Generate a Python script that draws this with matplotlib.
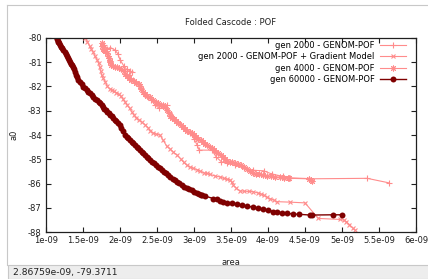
#!/usr/bin/env python
# Folded Cascode : POF -- pareto fronts for several runs (gnuplot wxt look)

import numpy as np
import matplotlib
matplotlib.use('Agg')
import matplotlib.pyplot as plt
from matplotlib.patches import Rectangle
from matplotlib.lines import Line2D

plt.rcParams['font.family'] = 'DejaVu Sans'
plt.rcParams['font.size'] = 6

#
#   DATA  (area in units of 1e-9)
#
g2000_area = [1.79, 1.83, 1.87, 1.93, 1.97, 2.00, 2.05, 2.09, 2.13, 2.16, 2.12, 2.18,
              2.24, 2.29, 2.33, 2.38, 2.42, 2.47, 2.53, 2.61, 2.63, 2.66, 2.72, 2.78,
              2.86, 2.94, 3.00, 3.04, 3.07, 3.24, 3.30, 3.37, 3.45, 3.55, 3.68, 3.80,
              3.94, 4.05, 4.20, 4.30, 4.55, 5.34, 5.64]
g2000_a0 = [-80.30, -80.45, -80.40, -80.50, -80.65, -80.90, -81.15, -81.30, -81.35, -81.40,
            -81.55, -81.75, -81.90, -82.05, -82.30, -82.45, -82.55, -82.75, -82.90, -82.90,
            -82.75, -83.05, -83.25, -83.45, -83.70, -83.90, -84.15, -84.40, -84.62, -84.62,
            -84.90, -85.10, -85.15, -85.25, -85.35, -85.45, -85.47, -85.60, -85.70, -85.78,
            -85.80, -85.78, -85.97]

grad_area = [1.532, 1.56, 1.59, 1.61, 1.64, 1.66, 1.69, 1.71, 1.725, 1.74, 1.755, 1.77,
             1.80, 1.83, 1.86, 1.89, 1.92, 1.95, 1.98, 2.01, 2.04, 2.07, 2.10, 2.13,
             2.16, 2.19, 2.22, 2.26, 2.30, 2.34, 2.38, 2.41, 2.44, 2.48, 2.54, 2.58,
             2.63, 2.68, 2.72, 2.77, 2.82, 2.86, 2.90, 2.95, 2.99, 3.04, 3.08, 3.13,
             3.17, 3.22, 3.28, 3.35, 3.40, 3.45, 3.49, 3.51, 3.53, 3.57, 3.62, 3.68,
             3.74, 3.80, 3.86, 3.90, 3.94, 3.98, 4.03, 4.08, 4.12, 4.30, 4.50, 4.68,
             4.97, 5.03, 5.06, 5.10, 5.15, 5.17]
grad_a0 = [-80.00, -80.16, -80.35, -80.45, -80.60, -80.75, -80.90, -81.05, -81.20, -81.38,
           -81.55, -81.65, -81.80, -82.00, -82.10, -82.15, -82.20, -82.25, -82.32, -82.40,
           -82.52, -82.65, -82.78, -82.90, -83.05, -83.18, -83.28, -83.38, -83.48, -83.58,
           -83.70, -83.82, -83.90, -83.95, -84.00, -84.20, -84.45, -84.58, -84.70, -84.82,
           -84.98, -85.12, -85.23, -85.32, -85.37, -85.42, -85.48, -85.55, -85.58, -85.62,
           -85.68, -85.72, -85.78, -85.82, -85.85, -85.95, -86.06, -86.18, -86.30, -86.31,
           -86.32, -86.33, -86.38, -86.42, -86.47, -86.55, -86.62, -86.68, -86.74, -86.76,
           -86.79, -87.43, -87.47, -87.50, -87.57, -87.68, -87.84, -87.90]

g4000_area = [1.757, 1.76, 1.77, 1.79, 1.80, 1.82, 1.84, 1.85, 1.86, 1.87, 1.88, 1.90,
              1.93, 1.96, 1.99, 2.02, 2.05, 2.07, 2.09, 2.12, 2.15, 2.19, 2.22, 2.25,
              2.27, 2.29, 2.31, 2.34, 2.37, 2.41, 2.45, 2.48, 2.52, 2.55, 2.58, 2.61,
              2.64, 2.66, 2.68, 2.70, 2.73, 2.76, 2.79, 2.82, 2.85, 2.88, 2.91, 2.94,
              2.97, 3.00, 3.03, 3.06, 3.09, 3.12, 3.15, 3.18, 3.21, 3.24, 3.27, 3.30,
              3.33, 3.36, 3.39, 3.42, 3.45, 3.48, 3.52, 3.56, 3.60, 3.64, 3.68, 3.72,
              3.76, 3.80, 3.84, 3.88, 3.93, 3.98, 4.04, 4.10, 4.16, 4.22, 4.27, 4.29,
              4.55, 4.58, 4.60]
g4000_a0 = [-80.23, -80.35, -80.45, -80.50, -80.55, -80.62, -80.75, -80.85, -80.95, -81.00,
            -81.10, -81.15, -81.20, -81.22, -81.25, -81.28, -81.35, -81.48, -81.58, -81.65,
            -81.72, -81.78, -81.85, -81.92, -82.00, -82.10, -82.22, -82.32, -82.40, -82.45,
            -82.55, -82.65, -82.70, -82.75, -82.78, -82.85, -82.97, -83.10, -83.20, -83.28,
            -83.35, -83.42, -83.50, -83.58, -83.68, -83.75, -83.82, -83.88, -83.93, -84.00,
            -84.08, -84.15, -84.20, -84.28, -84.35, -84.42, -84.48, -84.55, -84.62, -84.68,
            -84.75, -84.82, -84.90, -84.98, -85.05, -85.10, -85.12, -85.15, -85.20, -85.25,
            -85.32, -85.40, -85.48, -85.55, -85.60, -85.62, -85.65, -85.68, -85.70, -85.72,
            -85.74, -85.76, -85.78, -85.76, -85.79, -85.83, -85.88]

g60000_area = [1.150, 1.155, 1.160, 1.166, 1.175, 1.189, 1.20, 1.215, 1.234, 1.25,
               1.265, 1.28, 1.295, 1.31, 1.324, 1.34, 1.355, 1.369, 1.38, 1.392,
               1.405, 1.42, 1.436, 1.455, 1.48, 1.504, 1.525, 1.55, 1.572, 1.595,
               1.617, 1.639, 1.66, 1.685, 1.71, 1.73, 1.75, 1.77, 1.79, 1.81,
               1.83, 1.85, 1.87, 1.89, 1.91, 1.93, 1.95, 1.975, 2.00, 2.02,
               2.045, 2.068, 2.09, 2.112, 2.135, 2.158, 2.18, 2.202, 2.225, 2.247,
               2.27, 2.292, 2.315, 2.338, 2.36, 2.383, 2.405, 2.428, 2.455, 2.485,
               2.513, 2.541, 2.57, 2.598, 2.625, 2.653, 2.68, 2.71, 2.74, 2.766,
               2.80, 2.835, 2.87, 2.901, 2.935, 2.97, 3.00, 3.036, 3.065, 3.095,
               3.104, 3.149, 3.261, 3.306, 3.351, 3.396, 3.442, 3.509, 3.577, 3.645,
               3.712, 3.802, 3.869, 3.937, 4.005, 4.072, 4.126, 4.185, 4.261, 4.342,
               4.423, 4.568, 4.591, 4.883, 4.996]
g60000_a0 = [-80.00, -80.06, -80.12, -80.18, -80.22, -80.28, -80.36, -80.44, -80.52, -80.60,
             -80.68, -80.76, -80.84, -80.92, -80.98, -81.06, -81.12, -81.19, -81.30, -81.42,
             -81.52, -81.62, -81.72, -81.82, -81.92, -82.01, -82.08, -82.15, -82.22, -82.29,
             -82.36, -82.42, -82.50, -82.57, -82.63, -82.70, -82.78, -82.86, -82.92, -82.98,
             -83.04, -83.10, -83.16, -83.23, -83.30, -83.37, -83.44, -83.52, -83.60, -83.72,
             -83.85, -83.98, -84.06, -84.13, -84.20, -84.28, -84.34, -84.41, -84.48, -84.55,
             -84.62, -84.68, -84.75, -84.82, -84.89, -84.96, -85.03, -85.10, -85.17, -85.24,
             -85.31, -85.37, -85.44, -85.51, -85.58, -85.65, -85.72, -85.79, -85.86, -85.92,
             -85.99, -86.06, -86.12, -86.16, -86.22, -86.28, -86.33, -86.38, -86.42, -86.46,
             -86.47, -86.51, -86.61, -86.65, -86.70, -86.74, -86.79, -86.81, -86.85, -86.88,
             -86.92, -86.97, -87.02, -87.06, -87.08, -87.15, -87.18, -87.19, -87.22, -87.25,
             -87.26, -87.29, -87.29, -87.28, -87.28]

labels = ['gen 2000 - GENOM-POF',
          'gen 2000 - GENOM-POF + Gradient Model',
          'gen 4000 - GENOM-POF',
          'gen 60000 - GENOM-POF']
xticks = [1e-9, 1.5e-9, 2e-9, 2.5e-9, 3e-9, 3.5e-9, 4e-9, 4.5e-9, 5e-9, 5.5e-9, 6e-9]
yticks = [-80, -81, -82, -83, -84, -85, -86, -87, -88]
status_text = '2.86759e-09, -79.3711'

#
#   PLOT
#
pink = '#ff8c8c'
dark = '#7f0000'

fig = plt.figure(figsize=(4.28, 2.79), dpi=100)
ax = fig.add_axes([46/428, 1-232.3/279, 370/428, 194.5/279])

sc = 1e-9
ax.plot(np.array(g2000_area)*sc, g2000_a0, color=pink, lw=0.8, marker='+',
        ms=4.5, mew=0.8, label=labels[0])
ax.plot(np.array(grad_area)*sc, grad_a0, color=pink, lw=0.8, marker='x',
        ms=3.5, mew=0.8, label=labels[1])
ax.plot(np.array(g4000_area)*sc, g4000_a0, color=pink, lw=0.8, marker=(8, 2, 0),
        ms=4.2, mew=0.7, label=labels[2])
ax.plot(np.array(g60000_area)*sc, g60000_a0, color=dark, lw=1.0, marker='o',
        ms=4.3, mew=0, label=labels[3])

ax.set_xlim(1e-9, 6e-9)
ax.set_ylim(-88, -80)
ax.set_xticks(xticks)
ax.set_xticklabels(['%g' % v for v in xticks])
ax.set_yticks(yticks)
ax.set_yticklabels(['%g' % v for v in yticks])
ax.tick_params(direction='in', length=3.5, width=0.8, top=True, right=True,
               labelsize=6, pad=3, colors='#202020')
for s in ax.spines.values():
    s.set_linewidth(0.9)
    s.set_color('#202020')

ax.set_title('Folded Cascode : POF', fontsize=6, pad=9, color='#202020')
ax.set_xlabel('area', fontsize=6, labelpad=9, color='#202020')
ax.set_ylabel('a0', fontsize=6, labelpad=7, color='#202020')

leg = ax.legend(loc='upper right', bbox_to_anchor=(0.972, 0.985), frameon=False,
                markerfirst=False, fontsize=6, handlelength=3.1, handletextpad=0.6,
                labelspacing=0.3, borderpad=0, borderaxespad=0, numpoints=1)

# window chrome of the gnuplot viewer
fig.add_artist(Line2D([6.5/428, 1], [1-5/279, 1-5/279], color='#c8c8c8', lw=0.8))
fig.add_artist(Line2D([6.5/428, 6.5/428], [14/279, 1-5/279], color='#c8c8c8', lw=0.8))
fig.add_artist(Rectangle((8/428, 0), 1, 14.5/279, facecolor='#ededed',
                         edgecolor='#c8c8c8', lw=0.8))
fig.text(13/428, 7/279, status_text, fontsize=6.6, va='center', ha='left',
         color='#202020')

fig.savefig('out.png', dpi=100)
